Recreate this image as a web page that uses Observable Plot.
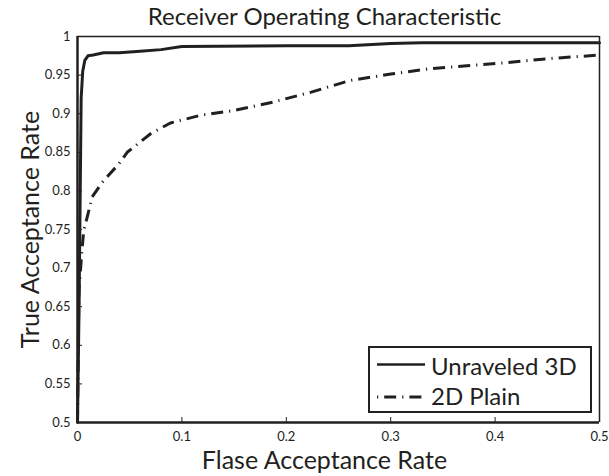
<!DOCTYPE html>
<html>
<head>
<meta charset="utf-8">
<script src="https://cdn.jsdelivr.net/npm/d3@7"></script>
<script src="https://cdn.jsdelivr.net/npm/@observablehq/plot@0.6"></script>
<style>
  html, body { margin: 0; padding: 0; background: #fff; }
  #wrap { position: relative; width: 609px; height: 476px; font-family: Lato, sans-serif; }
  #legend { position: absolute; left: 0; top: 0; pointer-events: none; }
</style>
</head>
<body>
<div id="wrap"></div>
<script>
const title = "Receiver Operating Characteristic";
const xLabel = "Flase Acceptance Rate";
const yLabel = "True Acceptance Rate";
const seriesNames = ["Unraveled 3D", "2D Plain"];

const xTicks = [0, 0.1, 0.2, 0.3, 0.4, 0.5];
const xTickLabels = ["0", "0.1", "0.2", "0.3", "0.4", "0.5"];
const yTicks = [0.5, 0.55, 0.6, 0.65, 0.7, 0.75, 0.8, 0.85, 0.9, 0.95, 1];
const yTickLabels = ["0.5", "0.55", "0.6", "0.65", "0.7", "0.75", "0.8", "0.85", "0.9", "0.95", "1"];

// Unraveled 3D (solid)
const far3D = [0, 0.0015, 0.0035, 0.005, 0.007, 0.01, 0.015, 0.025, 0.04, 0.06, 0.08, 0.1, 0.2, 0.26, 0.3, 0.33, 0.5];
const tar3D = [0.5, 0.65, 0.92, 0.955, 0.969, 0.975, 0.976, 0.979, 0.979, 0.981, 0.983, 0.987, 0.988, 0.988, 0.991, 0.992, 0.992];

// 2D Plain (dash-dot)
const far2D = [0, 0.0013, 0.003, 0.0045, 0.006, 0.0093, 0.014, 0.0236, 0.0396, 0.0476, 0.07, 0.089, 0.118, 0.149, 0.187, 0.224, 0.261, 0.2985, 0.336, 0.373, 0.41, 0.448, 0.5];
const tar2D = [0.5, 0.67, 0.70, 0.727, 0.749, 0.766, 0.792, 0.811, 0.835, 0.85, 0.874, 0.888, 0.898, 0.904, 0.915, 0.928, 0.943, 0.951, 0.958, 0.962, 0.966, 0.971, 0.976];

const ink = "#231f20";
const dashDot = "12,6,1.2,6";
const d3D = far3D.map((x, i) => ({x, y: tar3D[i]}));
const d2D = far2D.map((x, i) => ({x, y: tar2D[i]}));

const chart = Plot.plot({
  width: 609,
  height: 476,
  marginLeft: 77,
  marginRight: 10,
  marginTop: 36,
  marginBottom: 54,
  style: { fontFamily: "Lato, sans-serif", color: ink, background: "#fff" },
  x: { domain: [0, 0.5] },
  y: { domain: [0.5, 1] },
  marks: [
    Plot.line(d2D, { x: "x", y: "y", stroke: ink, strokeWidth: 3, strokeDasharray: dashDot, strokeLinecap: "butt" }),
    Plot.line(d3D, { x: "x", y: "y", stroke: ink, strokeWidth: 3, strokeLinejoin: "round" }),
    Plot.ruleX([0.5], { stroke: ink, strokeWidth: 1.5 }),
    Plot.ruleY([1], { stroke: ink, strokeWidth: 1.5 }),
    Plot.ruleX([0], { stroke: ink, strokeWidth: 2.5 }),
    Plot.ruleY([0.5], { stroke: ink, strokeWidth: 2.5 }),
    Plot.axisX({ ticks: xTicks, tickFormat: (d) => xTickLabels[xTicks.findIndex(t => Math.abs(t - d) < 1e-9)],
      tickSize: -5, tickPadding: 14, fontSize: 13, stroke: ink, fill: ink, label: null }),
    Plot.axisY({ ticks: yTicks, tickFormat: (d) => yTickLabels[yTicks.findIndex(t => Math.abs(t - d) < 1e-9)],
      tickSize: -5, tickPadding: 12, fontSize: 13, stroke: ink, fill: ink, label: null }),
    Plot.text([title], { frameAnchor: "top", dx: -14, dy: -12, lineAnchor: "bottom", fontSize: 24, fill: ink }),
    Plot.text([xLabel], { frameAnchor: "bottom", dx: -14, dy: 46, lineAnchor: "bottom", fontSize: 25, fill: ink }),
    Plot.text([yLabel], { frameAnchor: "left", dx: -39, rotate: -90, textAnchor: "middle", lineAnchor: "bottom", fontSize: 25, fill: ink })
  ]
});
const wrap = document.getElementById("wrap");
wrap.appendChild(chart);

// Legend overlay (box inside the plot's lower-right corner)
const ns = "http://www.w3.org/2000/svg";
const lg = document.createElementNS(ns, "svg");
lg.setAttribute("id", "legend");
lg.setAttribute("width", 609);
lg.setAttribute("height", 476);
const box = { x: 369, y: 347, w: 222, h: 65 };
let html = `<rect x="${box.x}" y="${box.y}" width="${box.w}" height="${box.h}" fill="#fff" stroke="${ink}" stroke-width="2"/>`;
const rowY = [364.5, 397];
const baseY = [375, 405];
seriesNames.forEach((name, i) => {
  const dash = i === 0 ? "" : `stroke-dasharray="${dashDot}" stroke-dashoffset="18"`;
  html += `<line x1="377" x2="425" y1="${rowY[i]}" y2="${rowY[i]}" stroke="${ink}" stroke-width="${i === 0 ? 2.5 : 3}" ${dash}/>`;
  html += `<text x="431" y="${baseY[i]}" font-family="Lato, sans-serif" font-size="24" fill="${ink}">${name}</text>`;
});
lg.innerHTML = html;
wrap.appendChild(lg);
</script>
</body>
</html>
